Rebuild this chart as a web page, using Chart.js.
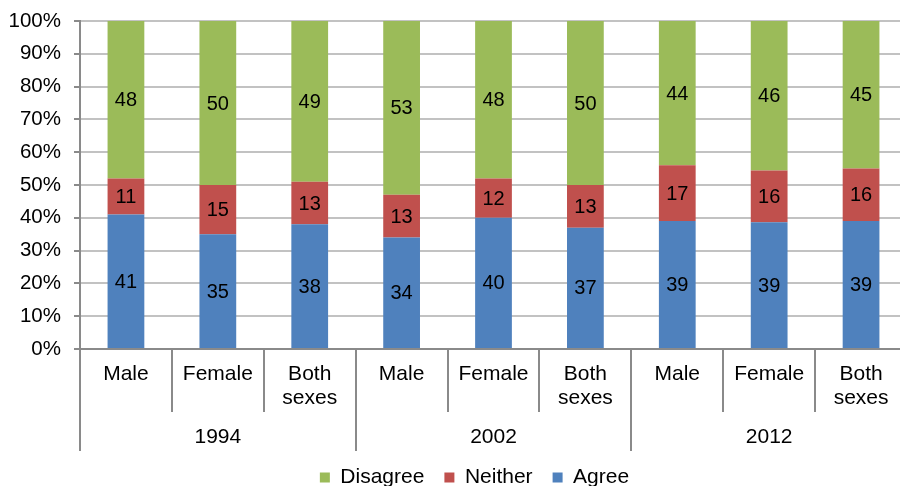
<!DOCTYPE html>
<html><head><meta charset="utf-8">
<script src="https://cdn.jsdelivr.net/npm/chart.js@4/dist/chart.umd.min.js"></script>
<style>
html,body{margin:0;padding:0;overflow:hidden;background:#fff;width:900px;height:486px}
#wrap{position:absolute;left:0;top:0;width:910px;height:498px}
</style></head><body><div id="wrap"><canvas id="c" width="910" height="498"></canvas></div>
<script>
const years = ['1994', '2002', '2012'];
const categories = [['Male'], ['Female'], ['Both', 'sexes'], ['Male'], ['Female'], ['Both', 'sexes'], ['Male'], ['Female'], ['Both', 'sexes']];
const agree = [41, 35, 38, 34, 40, 37, 39, 39, 39];
const neither = [11, 15, 13, 13, 12, 13, 17, 16, 16];
const disagree = [48, 50, 49, 53, 48, 50, 44, 46, 45];
const seriesNames = ['Agree', 'Neither', 'Disagree'];
const yTickValues = [0, 10, 20, 30, 40, 50, 60, 70, 80, 90, 100];

const FONT = '"Liberation Sans", Arial, sans-serif';
const raw = [agree, neither, disagree];
const totals = agree.map((v, i) => agree[i] + neither[i] + disagree[i]);
const pct = arr => arr.map((v, i) => v / totals[i] * 100);
const colors = ['#4F81BD', '#C0504D', '#9BBB59'];

const axisColor = '#8a8a8a';

const labelsPlugin = {
  id: 'valueLabels',
  afterDatasetsDraw(chart) {
    const ctx = chart.ctx;
    ctx.save();
    ctx.font = '20px ' + FONT;
    ctx.fillStyle = '#000';
    ctx.textAlign = 'center';
    ctx.textBaseline = 'middle';
    chart.data.datasets.forEach((ds, di) => {
      const meta = chart.getDatasetMeta(di);
      meta.data.forEach((bar, i) => {
        const y = (bar.y + bar.base) / 2;
        ctx.fillText(String(raw[di][i]), bar.x, y + 1);
      });
    });
    ctx.restore();
  }
};

const groupAxisPlugin = {
  id: 'groupAxis',
  afterLayout(chart) {
    if (chart.legend) chart.legend.left += 42;
  },
  afterDraw(chart) {
    const x = chart.scales.x;
    const ctx = chart.ctx;
    const base = x.top;
    const n = categories.length;
    const per = n / years.length;
    const bound = k => {
      if (k === 0) return x.left;
      if (k === n) return x.right;
      return (x.getPixelForValue(k - 1) + x.getPixelForValue(k)) / 2;
    };
    ctx.save();
    ctx.strokeStyle = axisColor;
    ctx.lineWidth = 2;
    for (let k = 0; k <= n; k++) {
      const isGroup = k % per === 0;
      const bx = Math.round(bound(k));
      ctx.beginPath();
      ctx.moveTo(bx, base);
      ctx.lineTo(bx, isGroup ? base + 102 : base + 63);
      ctx.stroke();
    }
    ctx.font = '21px ' + FONT;
    ctx.fillStyle = '#000';
    ctx.textAlign = 'center';
    ctx.textBaseline = 'middle';
    years.forEach((yr, g) => {
      const cx = (bound(g * per) + bound((g + 1) * per)) / 2;
      ctx.fillText(yr, cx, base + 88);
    });
    ctx.restore();
  }
};

new Chart(document.getElementById('c'), {
  type: 'bar',
  data: {
    labels: categories,
    datasets: [0, 1, 2].map(i => ({
      label: seriesNames[i],
      data: pct(raw[i]),
      backgroundColor: colors[i],
      borderWidth: 0,
      barPercentage: 0.4,
      categoryPercentage: 1.0
    }))
  },
  options: {
    responsive: false,
    animation: false,
    devicePixelRatio: 1,
    layout: { padding: { left: 0, right: 3, top: 21, bottom: 0 } },
    plugins: {
      legend: {
        position: 'bottom',
        reverse: true,
        labels: {
          font: { family: FONT, size: 21 },
          color: '#000',
          boxWidth: 10,
          boxHeight: 10,
          padding: 20
        }
      },
      tooltip: { enabled: false }
    },
    scales: {
      x: {
        stacked: true,
        grid: { display: false, drawTicks: false, tickLength: 0 },
        border: { display: true, color: axisColor, width: 2 },
        ticks: {
          font: { family: FONT, size: 21, lineHeight: 1.15 },
          color: '#000',
          padding: 13,
          maxRotation: 0,
          autoSkip: false
        },
        afterFit: s => { s.height = 98; s.paddingLeft = 0; s.paddingRight = 0; }
      },
      y: {
        stacked: true,
        min: 0,
        max: 100,
        afterBuildTicks: s => { s.ticks = yTickValues.map(v => ({ value: v })); },
        grid: {
          color: '#c2c2c2',
          lineWidth: 2,
          borderDash: [8, 5.3],
          tickLength: 6,
          tickColor: axisColor,
          tickWidth: 2,
          tickBorderDash: []
        },
        border: { display: true, color: axisColor, width: 2 },
        ticks: {
          font: { family: FONT, size: 20.5 },
          color: '#000',
          padding: 13,
          callback: v => v + '%'
        },
        afterFit: s => { s.width = 80; s.paddingTop = 0; s.paddingBottom = 0; }
      }
    }
  },
  plugins: [labelsPlugin, groupAxisPlugin]
});
</script></body></html>
